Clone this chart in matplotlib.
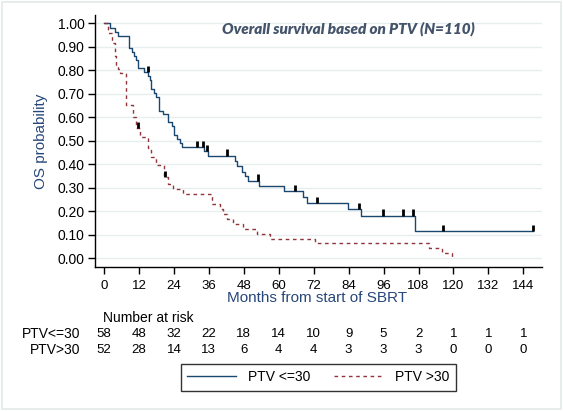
import matplotlib
matplotlib.use("Agg")
import matplotlib.pyplot as plt
from matplotlib.patches import Rectangle
from matplotlib.lines import Line2D
from matplotlib.transforms import blended_transform_factory

# ---------------- data ----------------
blue_t = [0, 2.1, 3.9, 4.9, 8.5, 9.7, 10.4, 10.9, 11.6, 11.8, 13.6, 15.2, 15.7, 16.1,
          17.3, 17.8, 18.8, 20.1, 22.1, 23.5, 24.0, 25.1, 26.2, 26.9, 34.2, 35.8,
          44.9, 45.7, 47.5, 48.4, 49.6, 53.2, 61.8, 68.5, 69.6, 83.9, 88.3, 106.9, 147.4]
blue_s = [1.0, 0.98, 0.962, 0.945, 0.894, 0.878, 0.861, 0.844, 0.826, 0.809, 0.791, 0.776,
          0.757, 0.72, 0.702, 0.686, 0.628, 0.613, 0.579, 0.562, 0.525, 0.508, 0.491, 0.474,
          0.455, 0.437, 0.412, 0.394, 0.368, 0.35, 0.331, 0.309, 0.287, 0.263, 0.237, 0.209,
          0.182, 0.118, 0.118]
blue_cens_t = [15.0, 31.8, 33.9, 35.3, 42.2, 52.8, 65.6, 73.0, 87.6, 95.7, 102.5, 106.0, 116.4, 147.4]
blue_cens_s = [0.791, 0.474, 0.474, 0.455, 0.437, 0.331, 0.287, 0.237, 0.209, 0.182, 0.182, 0.182, 0.118, 0.118]

red_t = [0, 1.3, 2.9, 3.8, 4.2, 4.9, 5.5, 7.4, 10.1, 11.0, 12.4, 15.0, 16.1, 17.8, 20.6,
         21.9, 23.7, 27.2, 37.0, 39.8, 40.7, 42.1, 44.4, 47.8, 52.4, 56.9, 72.5, 111.7,
         116.1, 119.6]
red_s = [1.0, 0.957, 0.917, 0.86, 0.823, 0.806, 0.788, 0.652, 0.60, 0.553, 0.517, 0.47,
         0.432, 0.397, 0.345, 0.316, 0.295, 0.274, 0.231, 0.21, 0.188, 0.167, 0.145, 0.124,
         0.102, 0.081, 0.064, 0.043, 0.022, 0.0]
red_cens_t = [11.8, 21.0]
red_cens_s = [0.553, 0.345]

x_ticks = [0, 12, 24, 36, 48, 60, 72, 84, 96, 108, 120, 132, 144]
y_ticks = [0.0, 0.1, 0.2, 0.3, 0.4, 0.5, 0.6, 0.7, 0.8, 0.9, 1.0]
risk_blue = [58, 48, 32, 22, 18, 14, 10, 9, 5, 2, 1, 1, 1]
risk_red = [52, 28, 14, 13, 6, 4, 4, 3, 3, 3, 0, 0, 0]
group_labels = ["PTV<=30", "PTV>30"]
legend_labels = ["PTV <=30", "PTV >30"]
title = "Overall survival based on PTV (N=110)"

# ---------------- style ----------------
W, H = 563, 411
BLUE = "#1a476f"
RED = "#90353b"
NAVY = "#27477a"
plt.rcParams['font.family'] = ['Liberation Sans', 'DejaVu Sans']

fig = plt.figure(figsize=(W / 100, H / 100), dpi=100)
fig.patch.set_facecolor("white")

def fx(px):
    return px / W

def fy(py):
    return 1 - py / H

ax_l, ax_r, ax_t, ax_b = 95, 541.7, 15, 267.3
ax = fig.add_axes([fx(ax_l), fy(ax_b), fx(ax_r - ax_l), (ax_b - ax_t) / H])
ax.set_xlim(-3.1, 150.3)
ax.set_ylim(-0.038, 1.035)

for yv in y_ticks:
    ax.axhline(yv, color="#e6eeef", lw=1.0, zorder=0)

ax.step(blue_t, blue_s, where="post", color=BLUE, lw=1.0, zorder=3)
ax.step(red_t, red_s, where="post", color=RED, lw=1.0, ls=(0, (2.6, 2.6)), zorder=3)
ax.vlines(blue_cens_t, blue_cens_s, [s + 0.026 for s in blue_cens_s], color="black", lw=2.0, zorder=4)
ax.vlines(red_cens_t, red_cens_s, [s + 0.026 for s in red_cens_s], color="black", lw=2.0, zorder=4)

for sp in ["top", "right"]:
    ax.spines[sp].set_visible(False)
for sp in ["left", "bottom"]:
    ax.spines[sp].set_linewidth(1.0)
    ax.spines[sp].set_color("black")

ax.set_xticks(x_ticks)
ax.set_xticklabels([str(v) for v in x_ticks], fontsize=9.5)
ax.set_yticks(y_ticks)
ax.set_yticklabels(["%.2f" % v for v in y_ticks], fontsize=10)
ax.tick_params(axis="both", direction="out", length=5, width=1.0, colors="black")
ax.tick_params(axis="x", pad=4)
ax.tick_params(axis="y", pad=2.5)

# axis titles
fig.text(fx(41), fy(141.3), "OS probability", rotation=90, ha="center", va="center",
         fontsize=11, color=NAVY)
fig.text(fx(316.7), fy(298.3), "Months from start of SBRT", ha="center", va="center",
         fontsize=11, color=NAVY)

# title
fig.text(fx(348.5), fy(28.5), title, ha="center", va="center", fontsize=11,
         family=["Lato", "DejaVu Sans"], fontweight="heavy", fontstyle="italic", color="#44546a")

# number at risk table
trans = blended_transform_factory(ax.transData, fig.transFigure)
fig.text(fx(103.3), fy(318.3), "Number at risk", ha="left", va="center", fontsize=10)
for row_y, lab, vals in [(334.3, group_labels[0], risk_blue), (350.3, group_labels[1], risk_red)]:
    fig.text(fx(80.7), fy(row_y), lab, ha="right", va="center", fontsize=10)
    for xv, v in zip(x_ticks, vals):
        ax.text(xv, fy(row_y), str(v), transform=trans, ha="center", va="center",
                fontsize=9.5, clip_on=False)

# legend
handles = [Line2D([], [], color=BLUE, lw=1.0),
           Line2D([], [], color=RED, lw=1.0, ls=(0, (2.6, 2.6)))]
leg = fig.legend(handles, legend_labels, loc="center",
                 bbox_to_anchor=(fx(318.3), fy(377.3)), ncol=2, fontsize=10,
                 frameon=True, fancybox=False, handlelength=3.5, handletextpad=0.9,
                 columnspacing=1.7, borderpad=0.45, borderaxespad=0)
leg.get_frame().set_edgecolor("black")
leg.get_frame().set_linewidth(1.0)

# outer frame
fig.add_artist(Rectangle((fx(1.7), fy(409)), fx(561 - 1.7), (409 - 1.7) / H,
                         transform=fig.transFigure, fill=False, edgecolor="#e3eaea", lw=1.2))

fig.savefig("out.png", dpi=100, facecolor="white")
